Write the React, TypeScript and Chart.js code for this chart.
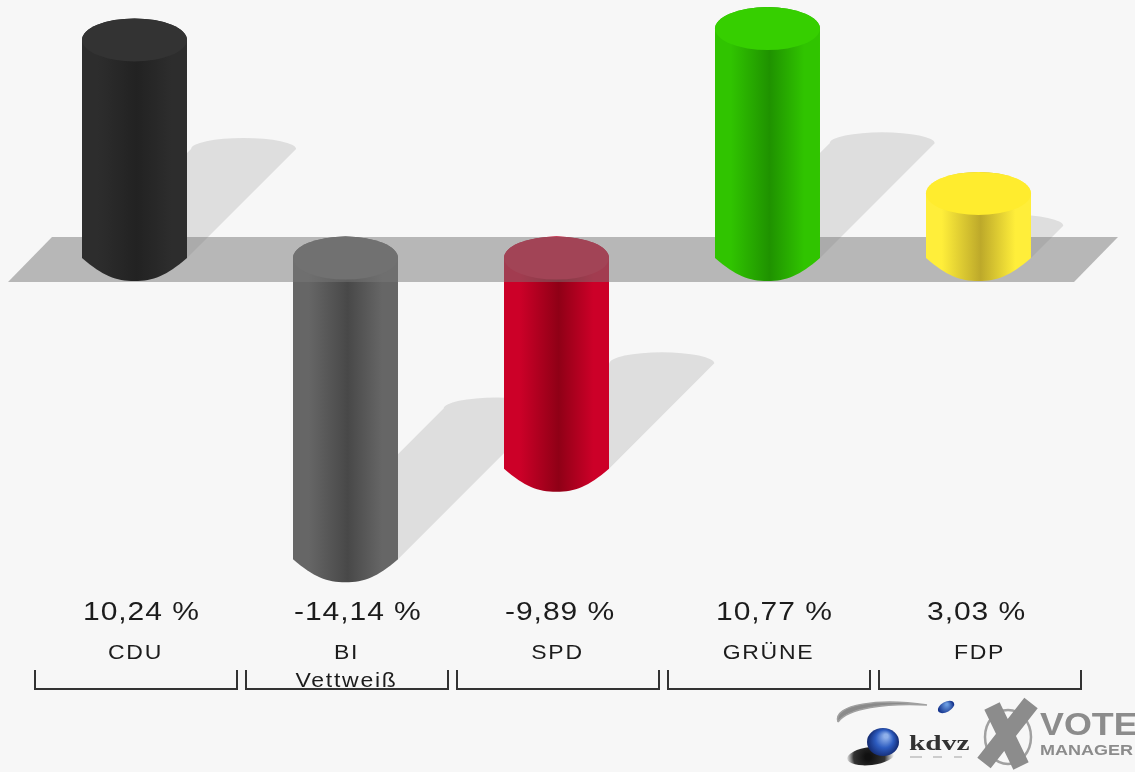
import React, { useEffect, useRef } from "react";
import { Chart, registerables } from "chart.js";

Chart.register(...registerables);

const parties = ["CDU", ["BI", "Vettweiß"], "SPD", "GRÜNE", "FDP"];
const values = [10.24, -14.14, -9.89, 10.77, 3.03];
const valueLabels = ["10,24 %", "-14,14 %", "-9,89 %", "10,77 %", "3,03 %"];
const edgeColors = ["#2d2d2d", "#666666", "#cc0028", "#30c400", "#ffee3a"];
const coreColors = ["#222222", "#484848", "#8f0016", "#1f9200", "#bda92a"];
const capColors = ["#333333", "#6a6a6a", "#cc1035", "#36cf00", "#ffec2e"];

const FONT = "'Liberation Sans', Arial, sans-serif";

function cylinder(ctx: CanvasRenderingContext2D, el: any, top: number, bottom: number, i: number) {
  const w = el.width;
  const left = el.x - w / 2;
  const right = el.x + w / 2;
  const g = ctx.createLinearGradient(left, 0, right, 0);
  g.addColorStop(0, edgeColors[i]);
  g.addColorStop(0.15, edgeColors[i]);
  g.addColorStop(0.52, coreColors[i]);
  g.addColorStop(0.85, edgeColors[i]);
  g.addColorStop(1, edgeColors[i]);
  ctx.beginPath();
  ctx.moveTo(left, top);
  ctx.ellipse(el.x, top, w / 2, 21.5, 0, Math.PI, 0);
  ctx.lineTo(right, bottom);
  ctx.bezierCurveTo(right - w * 0.2, bottom + 18, right - w * 0.32, bottom + 23, el.x, bottom + 23);
  ctx.bezierCurveTo(left + w * 0.32, bottom + 23, left + w * 0.2, bottom + 18, left, bottom);
  ctx.closePath();
  ctx.fillStyle = g;
  ctx.fill();
  ctx.beginPath();
  ctx.ellipse(el.x, top, w / 2, 21.5, 0, 0, Math.PI * 2);
  ctx.fillStyle = capColors[i];
  ctx.fill();
}

function shadow(ctx: CanvasRenderingContext2D, el: any, base: number, h: number) {
  const w = el.width;
  const d = h / 2;
  const cx = el.x + d;
  const cy = base - d;
  ctx.beginPath();
  ctx.moveTo(el.x - w / 2, base);
  ctx.lineTo(cx - w / 2, cy);
  ctx.ellipse(cx, cy, w / 2, 11, 0, Math.PI, 0);
  ctx.lineTo(el.x + w / 2, base);
  ctx.closePath();
  ctx.fillStyle = "#dedede";
  ctx.fill();
}

const scenePlugin = {
  id: "scene",
  beforeDraw(chart: any) {
    const ctx = chart.ctx;
    ctx.save();
    ctx.fillStyle = "#f7f7f7";
    ctx.fillRect(0, 0, chart.width, chart.height);
    ctx.restore();
  },
  beforeDatasetsDraw(chart: any) {
    const ctx = chart.ctx;
    const meta = chart.getDatasetMeta(0);
    const zero = chart.scales.y.getPixelForValue(0);
    ctx.save();
    meta.data.forEach((el: any) => {
      const bottom = Math.max(el.y, zero);
      shadow(ctx, el, bottom, Math.abs(el.y - zero));
    });
    meta.data.forEach((el: any, i: number) => {
      if (values[i] < 0) cylinder(ctx, el, zero, el.y, i);
    });
    // translucent ground plane around the zero line
    ctx.beginPath();
    ctx.moveTo(8, zero + 24);
    ctx.lineTo(52, zero - 21);
    ctx.lineTo(1118, zero - 21);
    ctx.lineTo(1074, zero + 24);
    ctx.closePath();
    ctx.fillStyle = "rgba(119,119,119,0.5)";
    ctx.fill();
    meta.data.forEach((el: any, i: number) => {
      if (values[i] >= 0) cylinder(ctx, el, el.y, zero, i);
    });
    ctx.restore();
    return false;
  },
  afterDraw(chart: any) {
    const ctx = chart.ctx;
    const meta = chart.getDatasetMeta(0);
    ctx.save();
    ctx.fillStyle = "#1c1c1c";
    ctx.textBaseline = "middle";
    ctx.textAlign = "left";
    ctx.font = `25px ${FONT}`;
    ctx.letterSpacing = "0.8px";
    meta.data.forEach((el: any, i: number) => {
      ctx.save();
      ctx.translate(el.x - el.width / 2 + 1, 613);
      ctx.scale(1.2, 1);
      ctx.fillText(valueLabels[i], 0, 0);
      ctx.restore();
    });
    ctx.letterSpacing = "0px";
    // brackets under each category
    ctx.strokeStyle = "#333333";
    ctx.lineWidth = 2;
    meta.data.forEach((el: any) => {
      ctx.beginPath();
      ctx.moveTo(el.x - 99.5, 670);
      ctx.lineTo(el.x - 99.5, 689);
      ctx.lineTo(el.x + 102.5, 689);
      ctx.lineTo(el.x + 102.5, 670);
      ctx.stroke();
    });
    drawLogo(ctx);
    ctx.restore();
  },
};

function drawLogo(ctx: CanvasRenderingContext2D) {
  // swoosh
  ctx.beginPath();
  ctx.moveTo(838, 722);
  ctx.bezierCurveTo(832, 704, 880, 698, 927, 705);
  ctx.bezierCurveTo(885, 703, 848, 708, 838, 722);
  ctx.fillStyle = "#8a8a8a";
  ctx.strokeStyle = "#a0a0a0";
  ctx.lineWidth = 1.5;
  ctx.fill();
  ctx.stroke();
  // small ball
  ctx.save();
  ctx.translate(946, 707);
  ctx.rotate(-0.5);
  let g = ctx.createRadialGradient(2, -2, 1, 0, 0, 8);
  g.addColorStop(0, "#6a9be0");
  g.addColorStop(1, "#13328c");
  ctx.beginPath();
  ctx.ellipse(0, 0, 9, 5, 0, 0, Math.PI * 2);
  ctx.fillStyle = g;
  ctx.fill();
  ctx.restore();
  // big ball + shadow
  const s = ctx.createRadialGradient(868, 757, 3, 870, 757, 24);
  s.addColorStop(0, "#111111");
  s.addColorStop(0.6, "#333333");
  s.addColorStop(1, "rgba(90,90,90,0)");
  ctx.beginPath();
  ctx.ellipse(871, 756, 24, 9, -0.12, 0, Math.PI * 2);
  ctx.fillStyle = s;
  ctx.fill();
  g = ctx.createRadialGradient(886, 736, 2, 883, 742, 16);
  g.addColorStop(0, "#8fb0ea");
  g.addColorStop(0.5, "#2d5cc0");
  g.addColorStop(1, "#12286e");
  ctx.beginPath();
  ctx.ellipse(883, 742, 16, 14, 0, 0, Math.PI * 2);
  ctx.fillStyle = g;
  ctx.fill();
  // kdvz
  ctx.fillStyle = "#333333";
  ctx.textAlign = "left";
  ctx.textBaseline = "alphabetic";
  ctx.save();
  ctx.translate(909, 750);
  ctx.scale(1.4, 1);
  ctx.font = `bold 21px 'Liberation Serif', serif`;
  ctx.fillText("kdvz", 0, 0);
  ctx.restore();
  // faint strapline below kdvz
  ctx.strokeStyle = "#cccccc";
  ctx.lineWidth = 2;
  ctx.beginPath();
  ctx.moveTo(910, 757);
  ctx.lineTo(922, 757);
  ctx.moveTo(933, 757);
  ctx.lineTo(942, 757);
  ctx.moveTo(954, 757);
  ctx.lineTo(962, 757);
  ctx.stroke();
  // X mark
  ctx.strokeStyle = "#a0a0a0";
  ctx.lineWidth = 2.5;
  ctx.beginPath();
  ctx.ellipse(1008, 737, 23, 27, 0, 0, Math.PI * 2);
  ctx.stroke();
  ctx.strokeStyle = "#8c8c8c";
  ctx.lineWidth = 17;
  ctx.beginPath();
  ctx.moveTo(992, 706);
  ctx.lineTo(1021, 766);
  ctx.moveTo(1031, 703);
  ctx.lineTo(984, 763);
  ctx.stroke();
  // VOTE MANAGER
  ctx.fillStyle = "#8c8c8c";
  ctx.save();
  ctx.translate(1040, 735);
  ctx.scale(1.12, 1);
  ctx.font = `bold 32px ${FONT}`;
  ctx.fillText("VOTE", 0, 0);
  ctx.restore();
  ctx.save();
  ctx.translate(1040, 755);
  ctx.scale(1.2, 1);
  ctx.font = `bold 15px ${FONT}`;
  ctx.fillText("MANAGER", 0, 0);
  ctx.restore();
}

// Draws the axis' own label items, widened like the reference's stretched type.
function drawStretchedLabels(this: any) {
  const ctx = this.ctx;
  const items = this.getLabelItems(this.chart.chartArea);
  const lineH = 28;
  items.forEach((item: any) => {
    const lines = Array.isArray(item.label) ? item.label : [item.label];
    const [tx, ty] = item.options.translation;
    ctx.save();
    ctx.translate(tx + 1, ty);
    ctx.scale(1.15, 1);
    ctx.font = `20px ${FONT}`;
    ctx.letterSpacing = "1.5px";
    ctx.textAlign = "center";
    ctx.textBaseline = "middle";
    ctx.fillStyle = "#1c1c1c";
    lines.forEach((line: string, k: number) => {
      ctx.fillText(line, 0, 14 + k * lineH);
    });
    ctx.restore();
  });
}

export default function App() {
  const ref = useRef<HTMLCanvasElement>(null);
  useEffect(() => {
    document.body.style.margin = "0";
    const chart = new Chart(ref.current as HTMLCanvasElement, {
      type: "bar",
      data: {
        labels: parties as any,
        datasets: [
          {
            data: values,
            backgroundColor: edgeColors,
            barPercentage: 1,
            categoryPercentage: 0.4976,
          },
        ],
      },
      options: {
        animation: false,
        responsive: false,
        layout: { padding: { left: 29, right: 51, top: 0, bottom: 0 } },
        plugins: { legend: { display: false }, tooltip: { enabled: false } },
        scales: {
          y: { display: false, min: -15.82, max: 12.113 },
          x: {
            grid: { display: false },
            border: { display: false },
            afterFit(scale: any) {
              scale.height = 177;
              scale.drawLabels = drawStretchedLabels;
            },
            ticks: {
              autoSkip: false,
              maxRotation: 0,
              padding: 36,
              color: "#1c1c1c",
              font: { family: FONT, size: 19, lineHeight: 1.47 },
            },
          },
        },
      },
      plugins: [scenePlugin],
    } as any);
    return () => chart.destroy();
  }, []);
  return (
    <canvas
      ref={ref}
      width={1135}
      height={772}
      style={{ display: "block", width: 1135, height: 772, filter: "blur(0.6px)" }}
    />
  );
}
